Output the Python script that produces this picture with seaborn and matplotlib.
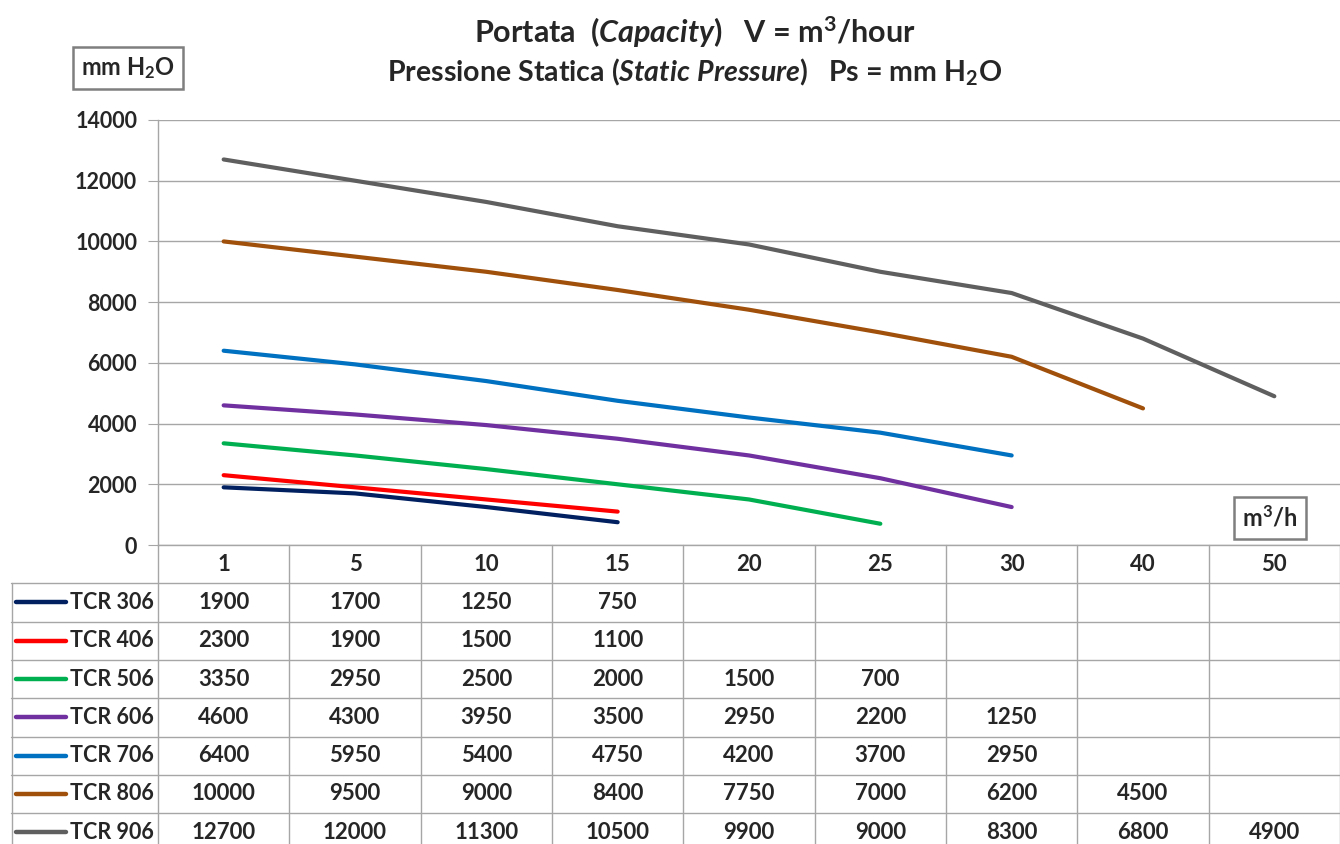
import numpy as np
import pandas as pd
import seaborn as sns
import matplotlib.pyplot as plt

# categories (capacity, m3/h) and static pressure per model (mm H2O)
capacity = ['1', '5', '10', '15', '20', '25', '30', '40', '50']
models = ['TCR 306', 'TCR 406', 'TCR 506', 'TCR 606', 'TCR 706', 'TCR 806', 'TCR 906']
tcr306 = [1900, 1700, 1250, 750]
tcr406 = [2300, 1900, 1500, 1100]
tcr506 = [3350, 2950, 2500, 2000, 1500, 700]
tcr606 = [4600, 4300, 3950, 3500, 2950, 2200, 1250]
tcr706 = [6400, 5950, 5400, 4750, 4200, 3700, 2950]
tcr806 = [10000, 9500, 9000, 8400, 7750, 7000, 6200, 4500]
tcr906 = [12700, 12000, 11300, 10500, 9900, 9000, 8300, 6800, 4900]
series = [tcr306, tcr406, tcr506, tcr606, tcr706, tcr806, tcr906]
colors = ['#002060', '#ff0000', '#00b050', '#7030a0', '#0070c0', '#a0500a', '#5f5f5f']

# long format for seaborn
rows = []
for name, vals in zip(models, series):
    for i, v in enumerate(vals):
        rows.append((name, i, v))
df = pd.DataFrame(rows, columns=['model', 'pos', 'pressure'])

sns.set_style('white')
plt.rcParams['font.family'] = ['Lato', 'DejaVu Sans']
plt.rcParams['font.weight'] = 'bold'
plt.rcParams['mathtext.fontset'] = 'custom'
plt.rcParams['mathtext.rm'] = 'Lato:bold'
plt.rcParams['mathtext.it'] = 'Lato:italic:bold'
plt.rcParams['mathtext.bf'] = 'Lato:bold'
plt.rcParams['mathtext.default'] = 'rm'

W, H = 1340, 844
grid = '#a6a6a6'
fig = plt.figure(figsize=(W / 100, H / 100), dpi=100)

# plot area in pixels: x 158..1340, y 120..545
ax = fig.add_axes([158 / W, (H - 545) / H, (W - 158) / W, 425 / H])
sns.lineplot(data=df, x='pos', y='pressure', hue='model', palette=dict(zip(models, colors)),
             linewidth=3, legend=False, ax=ax, solid_capstyle='round')
ax.set_xlim(-0.5, 8.5)
ax.set_ylim(0, 14000)
ax.set_yticks(range(0, 14001, 2000))
ax.set_xticks([])
ax.set_xlabel('')
ax.set_ylabel('')
ax.grid(axis='y', color=grid, lw=1)
for s in ['top', 'right']:
    ax.spines[s].set_visible(False)
for s in ['left', 'bottom']:
    ax.spines[s].set_color(grid)
    ax.spines[s].set_linewidth(1)
ax.tick_params(axis='y', length=7, color=grid, labelsize=15.5, pad=8, left=True)

# data table under the plot
row_h = 38.3
col_w = (W - 158) / 9
x_left = -0.5 - (158 - 11) / col_w
bottom = (H - 545) / row_h
tax = fig.add_axes([11 / W, 0, (W - 11) / W, (H - 545) / H])
tax.set_xlim(x_left, 8.5)
tax.set_ylim(bottom, 0)
tax.axis('off')

for k in range(10):
    tax.plot([k - 0.5] * 2, [0, bottom], color=grid, lw=1, clip_on=False)
tax.plot([x_left + 0.004] * 2, [1, bottom], color=grid, lw=1, clip_on=False)
for r in range(1, 8):
    tax.plot([x_left, 8.5], [r, r], color=grid, lw=1, clip_on=False)

for k, lab in enumerate(capacity):
    tax.text(k, 0.5, lab, ha='center', va='center', fontsize=16)

for r, (name, vals, c) in enumerate(zip(models, series, colors)):
    yc = r + 1.5
    tax.plot([x_left + 5 / col_w, x_left + 55 / col_w], [yc, yc], color=c, lw=3.2,
             solid_capstyle='round')
    tax.text(x_left + 59 / col_w, yc, name, ha='left', va='center', fontsize=15.5)
    for k, v in enumerate(vals):
        tax.text(k, yc, str(v), ha='center', va='center', fontsize=16)

# titles
fig.text(695 / W, 1 - 32 / H, r'Portata  $\mathit{(Capacity)}$   V = m$^3$/hour',
         ha='center', va='center', fontsize=22)
fig.text(695 / W, 1 - 72 / H, r'Pressione Statica $\mathit{(Static\ Pressure)}$   Ps = mm H$_2$O',
         ha='center', va='center', fontsize=20.5)

box = dict(boxstyle='square,pad=0.35', fc='white', ec='#7f7f7f', lw=1.8)
fig.text(128 / W, 1 - 68 / H, r'mm H$_2$O', ha='center', va='center', fontsize=17, bbox=box)
fig.text(1270 / W, 1 - 518 / H, r'm$^3$/h', ha='center', va='center', fontsize=17, bbox=box)

fig.savefig('out.png', dpi=100)
